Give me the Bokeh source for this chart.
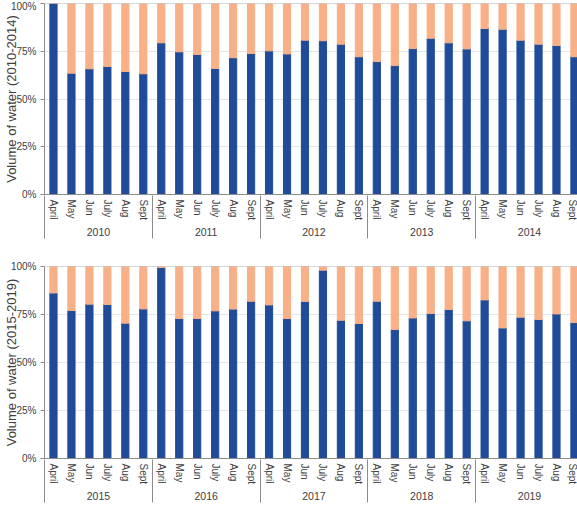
import math
from bokeh.plotting import figure
from bokeh.layouts import column
from bokeh.models import ColumnDataSource, Range1d, FixedTicker, LinearAxis, NumeralTickFormatter, Span
from bokeh.embed import file_html
from bokeh.resources import INLINE

months = ["April", "May", "Jun", "July", "Aug", "Sept"]
years_a = ["2010", "2011", "2012", "2013", "2014"]
years_b = ["2015", "2016", "2017", "2018", "2019"]

# share of the blue series (bottom) per month; orange fills the rest to 100%
blue_a = [1.00, 0.635, 0.658, 0.670, 0.644, 0.632,
          0.794, 0.747, 0.733, 0.660, 0.716, 0.738,
          0.752, 0.736, 0.808, 0.805, 0.787, 0.721,
          0.696, 0.675, 0.764, 0.818, 0.794, 0.762,
          0.869, 0.865, 0.808, 0.787, 0.780, 0.721]
blue_b = [0.862, 0.771, 0.804, 0.802, 0.705, 0.779,
          0.995, 0.729, 0.729, 0.769, 0.778, 0.819,
          0.800, 0.729, 0.818, 0.981, 0.720, 0.703,
          0.819, 0.672, 0.732, 0.755, 0.776, 0.717,
          0.826, 0.680, 0.736, 0.724, 0.753, 0.708]

BLUE = "#1f4b99"
ORANGE = "#f8b088"
TXT = "#404040"
AXC = "#8c8c8c"
FONT = "Liberation Sans"


def make(years, blue, label, top, bottom, height):
    n = len(years) * len(months)
    xs = list(range(n))
    src = ColumnDataSource(dict(x=xs, blue=blue, one=[1.0] * n))
    p = figure(width=577, height=height, x_range=Range1d(-0.5, 29.17), y_range=Range1d(0, 1),
               output_backend="svg", toolbar_location=None, x_axis_location=None,
               min_border_left=43, min_border_right=0, min_border_top=top, min_border_bottom=bottom)
    p.outline_line_color = None
    p.xgrid.visible = False
    p.ygrid.ticker = FixedTicker(ticks=[0.25, 0.5, 0.75])
    p.ygrid.grid_line_color = "#e6e6e6"

    p.vbar(x="x", top="blue", width=0.4, color=BLUE, source=src)
    p.vbar(x="x", bottom="blue", top="one", width=0.4, color=ORANGE, source=src)
    p.add_layout(Span(location=1, dimension="width", line_color="#b0b0b0", line_width=1))

    ya = p.yaxis[0]
    ya.ticker = FixedTicker(ticks=[0, 0.25, 0.5, 0.75, 1], minor_ticks=[])
    ya.formatter = NumeralTickFormatter(format="0%")
    ya.axis_line_color = AXC
    ya.major_tick_line_color = AXC
    ya.major_tick_out = 4
    ya.major_tick_in = 0
    ya.major_label_standoff = 4
    ya.major_label_text_font = FONT
    ya.major_label_text_font_size = "10px"
    ya.major_label_text_color = TXT
    ya.axis_label = label
    ya.axis_label_text_font = FONT
    ya.axis_label_text_font_size = "13px"
    ya.axis_label_text_font_style = "normal"
    ya.axis_label_text_color = TXT
    ya.axis_label_standoff = -11

    # month labels
    ma = LinearAxis(ticker=FixedTicker(ticks=xs, minor_ticks=[]),
                    major_label_overrides={i: months[i % 6] for i in xs},
                    major_label_orientation="vertical",
                    major_tick_line_color=None, minor_tick_line_color=None,
                    major_tick_out=0, major_tick_in=0, minor_tick_out=0, minor_tick_in=0,
                    axis_line_color=AXC, major_label_standoff=5,
                    major_label_text_font=FONT, major_label_text_font_size="10px",
                    major_label_text_color=TXT)
    p.add_layout(ma, "below")

    # year labels
    centers = [2.5 + 6 * k for k in range(len(years))]
    yra = LinearAxis(ticker=FixedTicker(ticks=centers, minor_ticks=[]),
                     major_label_overrides={c: y for c, y in zip(centers, years)},
                     axis_line_color=None, major_tick_line_color=None, minor_tick_line_color=None,
                     major_tick_out=0, major_tick_in=0, minor_tick_out=0, minor_tick_in=0,
                     major_label_standoff=4,
                     major_label_text_font=FONT, major_label_text_font_size="10.5px",
                     major_label_text_color=TXT)
    p.add_layout(yra, "below")

    # group separators (ticks reaching up to the x axis line)
    seps = [-0.5 + 6 * k for k in range(len(years) + 1)]
    sa = LinearAxis(ticker=FixedTicker(ticks=seps, minor_ticks=[]),
                    major_label_overrides={s: "" for s in seps},
                    axis_line_color=None, major_tick_line_color=AXC, minor_tick_line_color=None,
                    major_tick_out=0, major_tick_in=43, minor_tick_out=0, minor_tick_in=0,
                    major_label_standoff=0, major_label_text_font_size="1px")
    p.add_layout(sa, "below")
    return p


p1 = make(years_a, blue_a, "Volume of water (2010-2014)", 3, 64, 258)
p2 = make(years_b, blue_b, "Volume of water (2015-2019)", 8, 58, 258)
layout = column(p1, p2, spacing=0)

open("out.html", "w").write(file_html(layout, INLINE))
